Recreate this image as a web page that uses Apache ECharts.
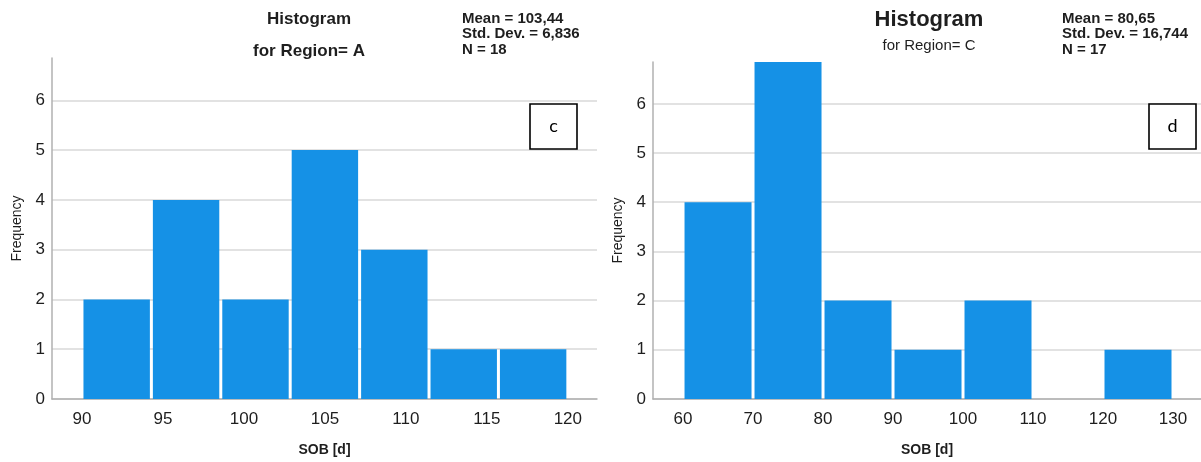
<!DOCTYPE html>
<html>
<head>
<meta charset="utf-8">
<script src="https://cdn.jsdelivr.net/npm/echarts@6/dist/echarts.min.js"></script>
<style>
  html, body { margin: 0; padding: 0; background: #ffffff; }
  #chart { width: 1201px; height: 462px; }
</style>
</head>
<body>
<div id="chart"></div>
<script>
// Region A: bin edges (seven equal bins from 90 to 120) and counts
const regionAEdges = [90, 94.286, 98.571, 102.857, 107.143, 111.429, 115.714, 120];
const regionACounts = [2, 4, 2, 5, 3, 1, 1];
const regionATicks = [90, 95, 100, 105, 110, 115, 120];

// Region C: bin edges (width 10 from 60 to 130) and counts
const regionCEdges = [60, 70, 80, 90, 100, 110, 120, 130];
const regionCCounts = [4, 7, 2, 1, 2, 0, 1];
const regionCTicks = [60, 70, 80, 90, 100, 110, 120, 130];

const freqTicks = [0, 1, 2, 3, 4, 5, 6];

const regionAStats = ['Mean = 103,44', 'Std. Dev. = 6,836', 'N = 18'];
const regionCStats = ['Mean = 80,65', 'Std. Dev. = 16,744', 'N = 17'];

const BAR = '#1591e6';
const FONT = '"Liberation Sans", Arial, sans-serif';
const TEXT = '#1e1e1e';

function binData(edges, counts) {
  return counts.map((c, i) => [edges[i], edges[i + 1], c]);
}

// Each bin is a rectangle between its edges, clipped at the top of the plot
function renderBin(params, api) {
  const start = api.value(0), end = api.value(1), count = api.value(2);
  if (!count) return null;
  const base = api.coord([start, 0]);
  const top = api.coord([end, count]);
  const yTop = Math.max(top[1], params.coordSys.y);
  return {
    type: 'rect',
    shape: { x: base[0] + 1.5, y: yTop, width: top[0] - base[0] - 3, height: base[1] - yTop },
    style: { fill: BAR }
  };
}

function xAxisFor(gridIndex, min, max, ticks) {
  return {
    type: 'value', gridIndex, min, max,
    name: 'SOB [d]', nameLocation: 'middle', nameGap: 44,
    nameTextStyle: { fontFamily: FONT, fontSize: 14, fontWeight: 'bold', color: TEXT },
    axisLine: { show: true, onZero: false, lineStyle: { color: '#b0b0b0', width: 1.5 } },
    axisTick: { show: false, customValues: ticks },
    axisLabel: { customValues: ticks, margin: 12, fontFamily: FONT, fontSize: 17, color: TEXT },
    splitLine: { show: false }
  };
}

function yAxisFor(gridIndex) {
  return {
    type: 'value', gridIndex, min: 0, max: 6.85,
    name: 'Frequency', nameLocation: 'middle', nameGap: 28,
    nameTextStyle: { fontFamily: FONT, fontSize: 14, color: TEXT },
    axisLine: { show: true, lineStyle: { color: '#b0b0b0', width: 1.5 } },
    axisTick: { show: false, customValues: freqTicks },
    axisLabel: { customValues: freqTicks, margin: 7, fontFamily: FONT, fontSize: 17, color: TEXT },
    splitLine: { show: true, lineStyle: { color: '#d9d9d9', width: 1.5 } }
  };
}

function statsText(x, lines) {
  return lines.map((t, i) => ({
    type: 'text', left: x, top: 11 + i * 15.5,
    style: { text: t, fontFamily: FONT, fontSize: 15, fontWeight: 'bold', fill: TEXT }
  }));
}

function labelBox(x, y, letter) {
  return [
    { type: 'rect', shape: { x, y, width: 47, height: 45 },
      style: { fill: '#ffffff', stroke: '#000000', lineWidth: 1.6 }, z: 10 },
    { type: 'text', x: x + 23.5, y: y + 22.5, z: 11,
      style: { text: letter, fontFamily: 'Lato, "Open Sans", sans-serif', fontSize: 18,
               fill: '#000000', align: 'center', verticalAlign: 'middle' } }
  ];
}

const chart = echarts.init(document.getElementById('chart'), null, { renderer: 'canvas' });

chart.setOption({
  backgroundColor: '#ffffff',
  animation: false,
  grid: [
    { left: 52, top: 58, width: 545, height: 344 },
    { left: 653, top: 62, width: 548, height: 338 }
  ],
  xAxis: [
    xAxisFor(0, 88.15, 121.8, regionATicks),
    xAxisFor(1, 55.71, 134, regionCTicks)
  ],
  yAxis: [yAxisFor(0), yAxisFor(1)],
  series: [
    { type: 'custom', xAxisIndex: 0, yAxisIndex: 0, renderItem: renderBin,
      encode: { x: [0, 1], y: 2 }, data: binData(regionAEdges, regionACounts) },
    { type: 'custom', xAxisIndex: 1, yAxisIndex: 1, renderItem: renderBin,
      encode: { x: [0, 1], y: 2 }, data: binData(regionCEdges, regionCCounts) }
  ],
  graphic: [
    { type: 'text', x: 309, y: 19,
      style: { text: 'Histogram', fontFamily: FONT, fontSize: 17, fontWeight: 'bold',
               fill: TEXT, align: 'center', verticalAlign: 'middle' } },
    { type: 'text', x: 309, y: 51,
      style: { text: 'for Region= A', fontFamily: FONT, fontSize: 17, fontWeight: 'bold',
               fill: TEXT, align: 'center', verticalAlign: 'middle' } },
    { type: 'text', x: 929, y: 20,
      style: { text: 'Histogram', fontFamily: FONT, fontSize: 22, fontWeight: 'bold',
               fill: TEXT, align: 'center', verticalAlign: 'middle' } },
    { type: 'text', x: 929, y: 46,
      style: { text: 'for Region= C', fontFamily: FONT, fontSize: 15,
               fill: TEXT, align: 'center', verticalAlign: 'middle' } },
    ...statsText(462, regionAStats),
    ...statsText(1062, regionCStats),
    ...labelBox(530, 104, 'c'),
    ...labelBox(1149, 104, 'd')
  ]
});
</script>
</body>
</html>
